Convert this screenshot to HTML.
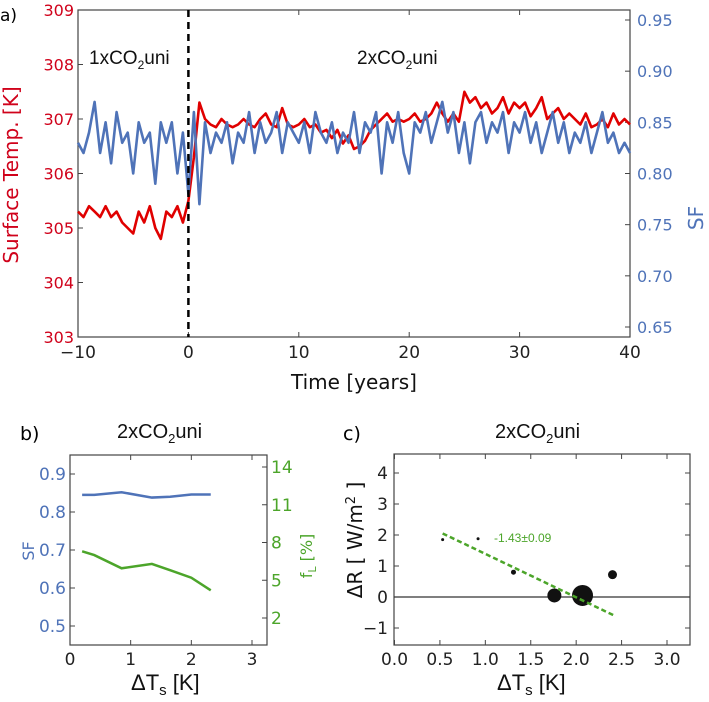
<!DOCTYPE html>
<html><head><meta charset="utf-8"><style>
html,body{margin:0;padding:0;background:#fff}
svg{display:block;font-family:"DejaVu Sans","Liberation Sans",sans-serif}
</style></head><body>
<svg id="fig" width="709" height="702" viewBox="0 0 709 702" xmlns="http://www.w3.org/2000/svg">
<g id="pa"></g>
<g id="pb"></g>
<g id="pc"></g>
</svg>
<script>
// ---- Panel a data ----
const timeStart = -10, timeStep = 0.5;
const tempK = [305.3,305.2,305.4,305.3,305.2,305.4,305.2,305.3,305.1,305.0,304.9,305.3,305.1,305.4,305.0,304.8,305.3,305.2,305.4,305.1,
305.5,306.3,307.3,307.0,306.9,306.85,307.0,306.9,306.85,306.9,307.0,306.9,306.85,307.0,307.1,306.9,306.85,307.2,306.9,306.85,
306.9,307.0,306.85,306.9,306.75,306.8,306.65,306.8,306.55,306.7,306.45,306.5,306.6,306.8,306.9,307.0,307.1,306.95,307.0,306.95,
307.0,307.1,306.95,307.0,307.1,307.3,307.1,306.95,307.1,306.95,307.5,307.3,307.4,307.2,307.3,307.1,307.2,307.4,307.1,307.3,
307.2,307.3,307.05,307.2,307.4,307.0,307.1,307.2,307.0,307.1,307.0,306.9,307.1,306.85,306.9,307.0,306.85,307.1,306.9,307.0,306.9];
const sfSeries = [0.83,0.82,0.84,0.87,0.82,0.85,0.81,0.86,0.83,0.84,0.80,0.85,0.83,0.84,0.79,0.85,0.83,0.85,0.80,0.84,
0.78,0.86,0.77,0.85,0.82,0.84,0.83,0.85,0.81,0.84,0.83,0.86,0.82,0.85,0.83,0.84,0.86,0.82,0.85,0.84,
0.83,0.85,0.82,0.86,0.84,0.83,0.85,0.82,0.84,0.83,0.86,0.82,0.85,0.84,0.86,0.80,0.85,0.83,0.86,0.82,
0.80,0.85,0.84,0.86,0.83,0.85,0.87,0.84,0.86,0.82,0.85,0.81,0.85,0.86,0.83,0.85,0.84,0.86,0.82,0.85,
0.84,0.86,0.83,0.85,0.82,0.84,0.86,0.83,0.85,0.82,0.84,0.83,0.85,0.82,0.84,0.86,0.83,0.84,0.82,0.83,0.82];
const aXTicks = [-10,0,10,20,30,40];
const aTempTicks = [303,304,305,306,307,308,309];
const aSfTicks = [0.65,0.70,0.75,0.80,0.85,0.90,0.95];
// ---- Panel b data ----
const bDT = [0.2,0.4,0.85,1.35,1.65,2.0,2.32];
const bSF = [0.845,0.845,0.852,0.838,0.840,0.846,0.846];
const bFL = [7.3,7.0,5.95,6.3,5.8,5.2,4.2];
const bXTicks = [0,1,2,3];
const bSfTicks = [0.5,0.6,0.7,0.8,0.9];
const bFlTicks = [2,5,8,11,14];
// ---- Panel c data ----
const cDT = [0.53,0.92,1.31,1.76,2.07,2.40];
const cDR = [1.85,1.88,0.80,0.05,0.05,0.72];
const cSize = [1.5,1.5,2.5,7,10.5,4.5];
const cFitX = [0.53,2.42];
const cFitY = [2.05,-0.6];
const cXTicks = [0.0,0.5,1.0,1.5,2.0,2.5,3.0];
const cYTicks = [-1,0,1,2,3,4];

const NS="http://www.w3.org/2000/svg";
const RED="#d0021b", BLUE="#4f73b8", GREEN="#4ca52a", TXT="#222";
function mk(parent,tag,attrs,text){const e=document.createElementNS(NS,tag);for(const k in attrs)e.setAttribute(k,attrs[k]);if(text!==undefined)e.textContent=text;parent.appendChild(e);return e;}
function lin(d0,d1,r0,r1){return v=>r0+(v-d0)/(d1-d0)*(r1-r0);}

// ===== Panel A =====
const pa=document.getElementById('pa');
const ax=lin(-10,40,78,630), ayT=lin(303,309,337,10), ayS=lin(0.65,0.95,327,20);
let e;
e=mk(pa,'rect',{x:78,y:10,width:552,height:327,fill:'none',stroke:'#444','stroke-width':1.2});


aXTicks.forEach(t=>{const x=ax(t);
 e=mk(pa,'line',{x1:x,y1:337,x2:x,y2:332,stroke:'#444'});
 mk(pa,'line',{x1:x,y1:10,x2:x,y2:15,stroke:'#444'});
 e=mk(pa,'text',{x:x,y:358,'text-anchor':'middle','font-size':17,fill:TXT},t<0?'\u2212'+(-t):t);});
aTempTicks.forEach(t=>{const y=ayT(t);
 mk(pa,'line',{x1:78,y1:y,x2:83,y2:y,stroke:'#444'});
 e=mk(pa,'text',{x:74,y:y+6,'text-anchor':'end','font-size':16,fill:RED},t);});
aSfTicks.forEach(t=>{const y=ayS(t);
 mk(pa,'line',{x1:630,y1:y,x2:625,y2:y,stroke:'#444'});
 e=mk(pa,'text',{x:637,y:y+6,'font-size':16,fill:BLUE},t.toFixed(2));});
let pts=tempK.map((v,i)=>ax(timeStart+i*timeStep).toFixed(1)+','+ayT(v).toFixed(1)).join(' ');
e=mk(pa,'polyline',{points:pts,fill:'none',stroke:'#e00000','stroke-width':2.6,'stroke-linejoin':'round'});


pts=sfSeries.map((v,i)=>ax(timeStart+i*timeStep).toFixed(1)+','+ayS(v).toFixed(1)).join(' ');
e=mk(pa,'polyline',{points:pts,fill:'none',stroke:BLUE,'stroke-width':2.6,'stroke-linejoin':'round'});


e=mk(pa,'line',{x1:ax(0),y1:10,x2:ax(0),y2:337,stroke:'#000','stroke-width':2.5,'stroke-dasharray':'7,5'});


e=mk(pa,'text',{x:0,y:21,'font-size':17,fill:'#000'},'a)');
e=mk(pa,'text',{x:89,y:64,'font-size':19,fill:'#111','font-family':'Liberation Sans, sans-serif'});e.innerHTML='1xCO<tspan font-size="12" dy="5">2</tspan><tspan dy="-5">uni</tspan>';

e=mk(pa,'text',{x:357,y:64,'font-size':19,fill:'#111','font-family':'Liberation Sans, sans-serif'});e.innerHTML='2xCO<tspan font-size="12" dy="5">2</tspan><tspan dy="-5">uni</tspan>';

e=mk(pa,'text',{x:354,y:389,'text-anchor':'middle','font-size':20,fill:'#111'},'Time [years]');
e=mk(pa,'text',{x:0,y:0,'text-anchor':'middle','font-size':20,fill:RED,transform:'translate(18,175) rotate(-90)'},'Surface Temp. [K]');
e=mk(pa,'text',{x:0,y:0,'text-anchor':'middle','font-size':20,fill:BLUE,transform:'translate(703,218) rotate(-90)'},'SF');

// ===== Panel B =====
const pb=document.getElementById('pb');
const bx=lin(0,3,70,252), byS=lin(0.5,0.9,626,474), byF=lin(2,14,618,467);
e=mk(pb,'rect',{x:70,y:455,width:197,height:190,fill:'none',stroke:'#444','stroke-width':1.2});
bXTicks.forEach(t=>{const x=bx(t);mk(pb,'line',{x1:x,y1:645,x2:x,y2:640,stroke:'#444'});mk(pb,'line',{x1:x,y1:455,x2:x,y2:460,stroke:'#444'});
 e=mk(pb,'text',{x:x,y:665,'text-anchor':'middle','font-size':17,fill:TXT},t);});
bSfTicks.forEach(t=>{const y=byS(t);mk(pb,'line',{x1:70,y1:y,x2:75,y2:y,stroke:'#444'});
 e=mk(pb,'text',{x:66,y:y+6,'text-anchor':'end','font-size':17,fill:BLUE},t.toFixed(1));});
bFlTicks.forEach(t=>{const y=byF(t);mk(pb,'line',{x1:267,y1:y,x2:262,y2:y,stroke:'#444'});
 e=mk(pb,'text',{x:271,y:y+6,'font-size':17,fill:GREEN},t);});
e=mk(pb,'polyline',{points:bDT.map((d,i)=>bx(d)+','+byS(bSF[i])).join(' '),fill:'none',stroke:BLUE,'stroke-width':2.5});
e=mk(pb,'polyline',{points:bDT.map((d,i)=>bx(d)+','+byF(bFL[i])).join(' '),fill:'none',stroke:GREEN,'stroke-width':2.5});
e=mk(pb,'text',{x:20,y:440,'font-size':19,fill:'#000'},'b)');
e=mk(pb,'text',{x:117,y:438,'font-size':20,fill:'#111','font-family':'Liberation Sans, sans-serif'});e.innerHTML='2xCO<tspan font-size="13" dy="5">2</tspan><tspan dy="-5">uni</tspan>';
e=mk(pb,'text',{x:131,y:690,'font-size':22,fill:'#111','font-family':'Liberation Sans, sans-serif'});e.innerHTML='\u0394T<tspan font-size="15" dy="5">s</tspan><tspan dy="-5"> [K]</tspan>';
e=mk(pb,'text',{x:0,y:0,'text-anchor':'middle','font-size':16,fill:BLUE,transform:'translate(34,551) rotate(-90)'},'SF');
e=mk(pb,'text',{x:0,y:0,'text-anchor':'middle','font-size':16,fill:GREEN,transform:'translate(312,556) rotate(-90)'});e.innerHTML='f<tspan font-size="11" dy="4">L</tspan><tspan dy="-4"> [%]</tspan>';

// ===== Panel C =====
const pc=document.getElementById('pc');
const cx=lin(0,3,394.5,667), cy=lin(0,2,597,535);
e=mk(pc,'rect',{x:394,y:454,width:296,height:191,fill:'none',stroke:'#444','stroke-width':1.2});
cXTicks.forEach(t=>{const x=cx(t);mk(pc,'line',{x1:x,y1:645,x2:x,y2:640,stroke:'#444'});mk(pc,'line',{x1:x,y1:454,x2:x,y2:459,stroke:'#444'});
 e=mk(pc,'text',{x:x,y:665,'text-anchor':'middle','font-size':17,fill:TXT},t.toFixed(1));});
cYTicks.forEach(t=>{const y=cy(t);mk(pc,'line',{x1:394,y1:y,x2:399,y2:y,stroke:'#444'});mk(pc,'line',{x1:690,y1:y,x2:685,y2:y,stroke:'#444'});
 e=mk(pc,'text',{x:388,y:y+6,'text-anchor':'end','font-size':17,fill:TXT},t<0?'\u2212'+(-t):t);});
e=mk(pc,'line',{x1:394,y1:cy(0),x2:690,y2:cy(0),stroke:'#333','stroke-width':1.2});
cDT.forEach((d,i)=>{e=mk(pc,'circle',{cx:cx(d),cy:cy(cDR[i]),r:cSize[i],fill:'#111'});
 
 });
e=mk(pc,'line',{x1:cx(cFitX[0]),y1:cy(cFitY[0]),x2:cx(cFitX[1]),y2:cy(cFitY[1]),stroke:GREEN,'stroke-width':2.5,'stroke-dasharray':'5,3'});
e=mk(pc,'text',{x:494,y:542,'font-size':12,fill:GREEN,'font-family':'Liberation Sans, sans-serif'},'-1.43\u00b10.09');
e=mk(pc,'text',{x:343,y:440,'font-size':19,fill:'#000'},'c)');
e=mk(pc,'text',{x:495,y:438,'font-size':20,fill:'#111','font-family':'Liberation Sans, sans-serif'});e.innerHTML='2xCO<tspan font-size="13" dy="5">2</tspan><tspan dy="-5">uni</tspan>';
e=mk(pc,'text',{x:497,y:690,'font-size':22,fill:'#111','font-family':'Liberation Sans, sans-serif'});e.innerHTML='\u0394T<tspan font-size="15" dy="5">s</tspan><tspan dy="-5"> [K]</tspan>';
e=mk(pc,'text',{x:0,y:0,'text-anchor':'middle','font-size':20,fill:'#111',transform:'translate(362,540) rotate(-90)'});e.innerHTML='\u0394R [ W/m<tspan font-size="13" dy="-7">2</tspan><tspan dy="7"> ]</tspan>';
</script>
</body></html>
